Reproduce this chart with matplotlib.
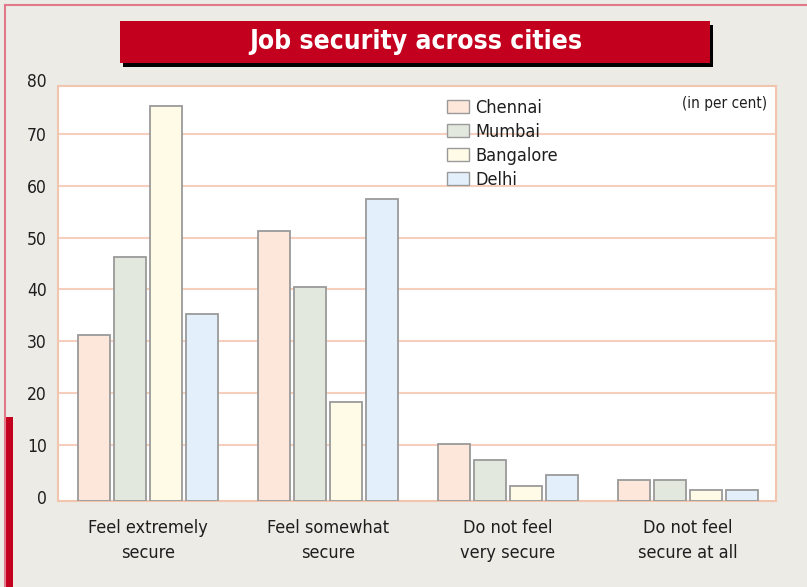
import numpy as np
import matplotlib
matplotlib.use("Agg")
import matplotlib.pyplot as plt
from matplotlib.patches import Rectangle, Patch

plt.rcParams['font.family'] = ['DejaVu Sans']
plt.rcParams['font.stretch'] = 'condensed'

categories = ["Feel extremely\nsecure", "Feel somewhat\nsecure",
              "Do not feel\nvery secure", "Do not feel\nsecure at all"]
cities = ["Chennai", "Mumbai", "Bangalore", "Delhi"]
chennai = [31.3, 51.3, 10.2, 3.3]
mumbai = [46.3, 40.4, 7.2, 3.3]
bangalore = [75.4, 18.3, 2.2, 1.3]
delhi = [35.3, 57.4, 4.3, 1.3]
yticks = [0, 10, 20, 30, 40, 50, 60, 70, 80]

series = [chennai, mumbai, bangalore, delhi]
colors = ["#FDE7DB", "#E3E8DE", "#FFFBE6", "#E3F0FB"]
text_color = "#1E1E1E"

W, H = 807, 587
fig = plt.figure(figsize=(W / 100, H / 100), dpi=100)
fig.patch.set_facecolor("#ECEBE6")

# outer frame lines and red side marker
fig.add_artist(plt.Line2D([5 / W, 5 / W], [0, 1 - 5 / H], color="#E07A88", lw=1.5))
fig.add_artist(plt.Line2D([5 / W, 1], [1 - 5 / H, 1 - 5 / H], color="#E07A88", lw=1.5))
fig.add_artist(Rectangle((5 / W, 0), 8 / W, (587 - 417) / H, color="#C4001F", lw=0))

# title banner with drop shadow
bx0, bx1, by0, by1 = 120, 710, 21, 63
fig.add_artist(Rectangle(((bx0 + 3) / W, 1 - (by1 + 4) / H), (bx1 - bx0) / W, (by1 - by0) / H,
                         color="black", lw=0))
fig.add_artist(Rectangle((bx0 / W, 1 - by1 / H), (bx1 - bx0) / W, (by1 - by0) / H,
                         color="#C4001F", lw=0))
fig.text((bx0 + bx1) / 2 / W + 1 / W, 1 - (by0 + by1) / 2 / H, "Job security across cities",
         color="white", fontsize=19, fontweight="bold", ha="center", va="center")

ax = fig.add_axes([58 / W, (587 - 501) / H, (776 - 58) / W, (501 - 86) / H])
ax.set_facecolor("white")

ybot, ytop = -0.75, 79.2
x = np.arange(len(categories))
width, step = 0.178, 0.2
for i, (vals, col, name) in enumerate(zip(series, colors, cities)):
    pos = x + (i - 1.5) * step
    v = np.array(vals)
    ax.bar(pos, v - ybot, bottom=ybot, width=width, color=col,
           edgecolor="#9A9A9A", linewidth=1.3, zorder=3, label=name)

shown = [t for t in yticks if t < ytop]
ax.set_yticks(shown)
ax.set_yticklabels([str(t) for t in shown], fontsize=12.5, color=text_color)
ax.set_ylim(ybot, ytop)
ax.set_xlim(-0.5, 3.49)
# the top tick sits just above the plotting area
for t in yticks:
    if t >= ytop:
        ax.text(-0.0153, t, str(t), transform=ax.get_yaxis_transform(), ha="right",
                va="center", fontsize=12.5, color=text_color, clip_on=False)
ax.set_xticks(x)
ax.set_xticklabels(categories, fontsize=13, color=text_color, linespacing=1.5)
ax.tick_params(axis="y", length=0, pad=8)
ax.tick_params(axis="x", length=0, pad=13)
ax.grid(axis="y", color="#F5CFBC", linewidth=1.5, zorder=0)
ax.yaxis.get_gridlines()[0].set_visible(False)
ax.set_axisbelow(True)
for s in ax.spines.values():
    s.set_color("#F2C6AE")
    s.set_linewidth(1.5)

handles = [Patch(facecolor=c, edgecolor="#9A9A9A", linewidth=1.0) for c in colors]
ax.legend(handles, cities, loc="upper left", bbox_to_anchor=(0.542, 0.969),
          frameon=False, fontsize=13, handlelength=1.2, handleheight=0.78,
          handletextpad=0.35, labelspacing=0.33, borderaxespad=0, borderpad=0,
          labelcolor=text_color)

ax.text(0.987, 0.958, "(in per cent)", transform=ax.transAxes, ha="right", va="center",
        fontsize=11, color=text_color)

fig.savefig("out.png", dpi=100, facecolor=fig.get_facecolor())
